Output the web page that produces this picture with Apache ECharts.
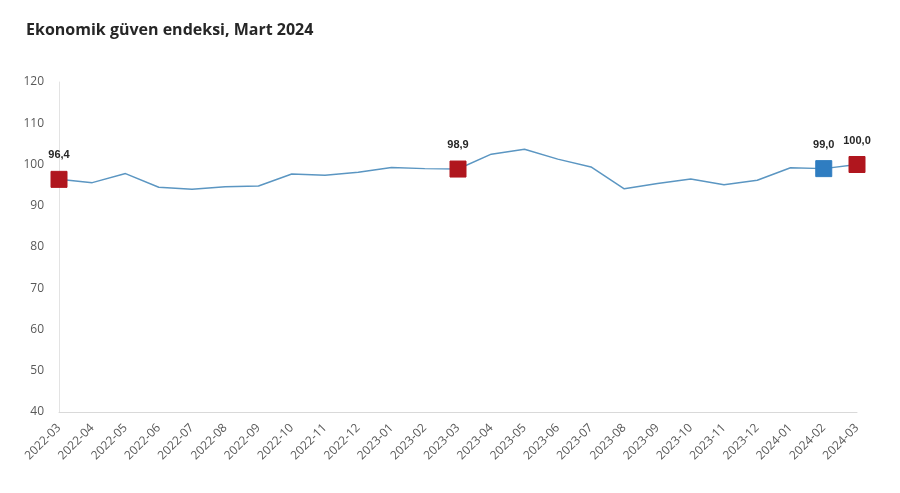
<!DOCTYPE html>
<html>
<head>
<meta charset="utf-8">
<script src="https://cdn.jsdelivr.net/npm/echarts@6/dist/echarts.min.js"></script>
<style>
html,body{margin:0;padding:0;background:#fff;}
#chart{width:900px;height:493px;}
</style>
</head>
<body>
<div id="chart"></div>
<script>
const categories = ['2022-03','2022-04','2022-05','2022-06','2022-07','2022-08','2022-09','2022-10','2022-11','2022-12',
  '2023-01','2023-02','2023-03','2023-04','2023-05','2023-06','2023-07','2023-08','2023-09','2023-10','2023-11','2023-12',
  '2024-01','2024-02','2024-03'];
const values = [96.4,95.6,97.8,94.5,94.0,94.6,94.8,97.7,97.4,98.1,99.3,99.0,98.9,102.5,103.7,101.3,99.4,94.1,95.4,96.5,95.1,96.2,99.2,99.0,100.0];
const markedRed = ['2022-03','2023-03','2024-03'];
const markedBlue = ['2024-02'];
const yTicks = [40,50,60,70,80,90,100,110,120];

const RED = '#B0161E', BLUE = '#2F7DC1';
const seriesData = values.map((v, i) => {
  const c = categories[i];
  if (markedRed.includes(c) || markedBlue.includes(c)) {
    const col = markedRed.includes(c) ? RED : BLUE;
    return {
      value: v,
      symbol: 'rect',
      symbolSize: 16,
      itemStyle: {color: col, borderColor: col},
      label: {show: true}
    };
  }
  return {value: v, symbol: 'none'};
});

const chart = echarts.init(document.getElementById('chart'));
chart.setOption({
  animation: false,
  backgroundColor: '#fff',
  title: {
    text: 'Ekonomik güven endeksi, Mart 2024',
    left: 21, top: 17,
    textStyle: {fontFamily: 'Open Sans', fontWeight: 'bold', fontSize: 16, color: '#262626'}
  },
  grid: {left: 59, right: 43, top: 82, bottom: 81, containLabel: false},
  xAxis: {
    type: 'category',
    data: categories,
    boundaryGap: false,
    axisLine: {show: true, lineStyle: {color: '#D9D9D9', width: 1}},
    axisTick: {show: false},
    axisLabel: {rotate: 45, fontFamily: 'Open Sans', fontSize: 12, color: '#595959', interval: 0, margin: 14}
  },
  yAxis: {
    type: 'value',
    min: yTicks[0], max: yTicks[yTicks.length - 1], interval: 10,
    axisLine: {show: true, lineStyle: {color: '#E3E3E3', width: 1}},
    axisTick: {show: false},
    splitLine: {show: false},
    axisLabel: {fontFamily: 'Open Sans', fontSize: 12, color: '#595959', margin: 15}
  },
  series: [{
    type: 'line',
    data: seriesData,
    showSymbol: true,
    lineStyle: {color: '#5B96C2', width: 1.5},
    itemStyle: {color: '#5B96C2'},
    label: {
      show: false,
      position: 'top',
      distance: 10,
      fontFamily: 'Arial',
      fontWeight: 'bold',
      fontSize: 11,
      color: '#262626',
      formatter: p => p.value.toFixed(1).replace('.', ',')
    },
    z: 3
  }]
});
</script>
</body>
</html>
